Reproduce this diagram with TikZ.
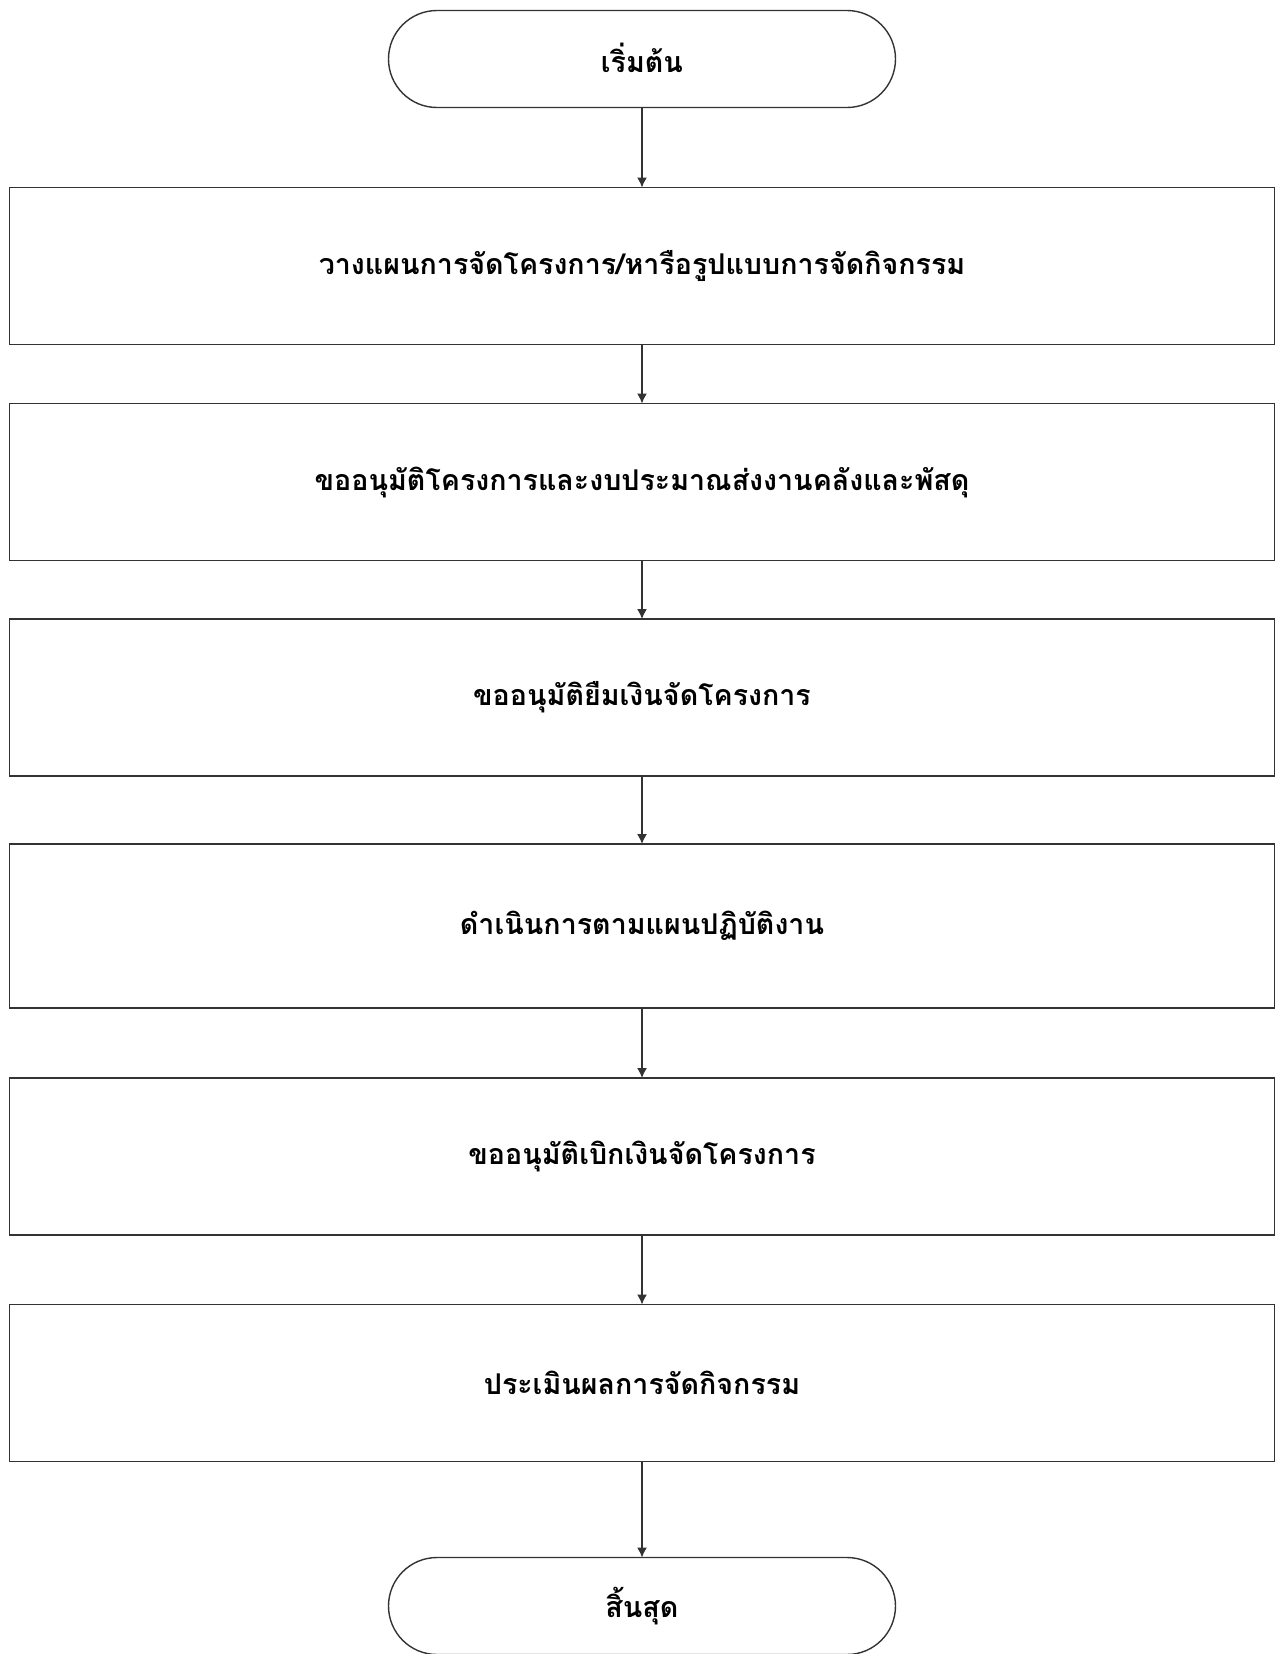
\documentclass[tikz,border=0pt]{standalone}
\usepackage{fontspec}
\newfontfamily\thaifont[Script=Thai]{Loma}
\usetikzlibrary{positioning,arrows.meta}
\tikzset{
    block/.style = {draw, rectangle, outer sep=0pt,
        minimum height=78.5pt,
        minimum width=632.75pt, align=center},
    term/.style = {draw, rectangle, rounded corners=24.25pt, outer sep=0pt,
        minimum height=48.5pt,
        minimum width=253.5pt, align=center},
    arrow/.style={draw, -{Latex[length=5pt,width=5pt]}}
}
\begin{document}
\begin{tikzpicture}[line width=0.7pt, draw=black!80, every node/.style={font=\thaifont\bfseries\fontsize{14.3pt}{17pt}\selectfont}]
    \useasboundingbox (0,0) rectangle (639.5pt,-827pt);
        \node [term] (start) at (321pt,-29.5pt) {\raisebox{1.5pt}{เริ่มต้น}};
        \node [block, below=40pt of start] (plan) {วางแผนการจัดโครงการ/หารือรูปแบบการจัดกิจกรรม};
        \node [block, below=29.5pt of plan] (approve) {ขออนุมัติโครงการและงบประมาณส่งงานคลังและพัสดุ};
        \node [block, below=29.25pt of approve] (borrow) {ขออนุมัติยืมเงินจัดโครงการ};
        \node [block, below=34pt of borrow, minimum height=82pt] (operate) {ดำเนินการตามแผนปฏิบัติงาน};
        \node [block, below=35pt of operate] (disburse) {ขออนุมัติเบิกเงินจัดโครงการ};
        \node [block, below=34.75pt of disburse] (evaluate) {ประเมินผลการจัดกิจกรรม};
        \node [term, below=48pt of evaluate] (stop) {สิ้นสุด};
        \foreach \a/\b in {start/plan,plan/approve,approve/borrow,borrow/operate,operate/disburse,disburse/evaluate,evaluate/stop}{
            \draw [arrow] (\a) -- (\b);
        }
\end{tikzpicture}
\end{document}
